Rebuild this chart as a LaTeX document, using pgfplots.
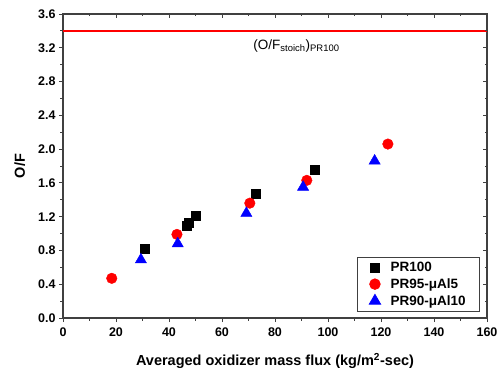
\documentclass[border=0pt]{standalone}
\usepackage{pgfplots}
\pgfplotsset{compat=1.18}
\usepackage{fontspec}
\setmainfont{Liberation Sans}
\begin{document}
\begin{tikzpicture}
\begin{axis}[
  scale only axis, width=424bp, height=304bp,
  xmin=0, xmax=160, ymin=0, ymax=3.6,
  xtick={0,20,...,160}, minor x tick num=1,
  ytick={0,0.4,...,3.6}, minor y tick num=1,
  yticklabel style={/pgf/number format/.cd,fixed,fixed zerofill,precision=1},
  /pgf/number format/assume math mode=true,
  ticklabel style={font=\fontsize{12.5bp}{14bp}\selectfont\bfseries},
  xticklabel style={yshift=-2bp},
  tick align=outside, xtick pos=bottom, ytick pos=left,
  major tick length=4bp, minor tick length=2.5bp,
  axis line style={line width=1.2bp, black!75},
  every tick/.style={black!75, line width=0.9bp},
  xlabel={\fontsize{14.5bp}{16bp}\selectfont\bfseries Averaged oxidizer mass flux (kg/m\textsuperscript{2}-sec)},
  ylabel={\fontsize{14.5bp}{16bp}\selectfont\bfseries O/F},
  xlabel style={yshift=-10bp},
  ylabel style={yshift=6bp},
  legend style={at={(rel axis cs:0.9835,0.02)}, anchor=south east,
    draw=black!75, line width=0.8bp, inner xsep=12bp, inner ysep=3bp,
    font=\fontsize{13.5bp}{15bp}\selectfont\bfseries,
    row sep=1.5bp, cells={anchor=west},
    /tikz/every odd column/.append style={column sep=8bp}},
  legend cell align=left,
]
\addplot[only marks, mark=square*, mark size=4.5bp, black] coordinates {
 (31,0.82) (46.5,1.09) (47.3,1.13) (50.2,1.21) (72.7,1.47) (94.8,1.76)};
\addlegendentry{PR100}
\addplot[only marks, mark=*, mark size=5.3bp, red] coordinates {
 (18.4,0.47) (43,0.99) (70.5,1.36) (92,1.63) (122.6,2.06)};
\addlegendentry{PR95-μAl5}
\addplot[only marks, mark=triangle*, mark size=6.5bp, blue] coordinates {
 (29.4,0.69) (43.3,0.88) (69.2,1.24) (90.6,1.55) (117.6,1.86)};
\addlegendentry{PR90-μAl10}
\addplot[red, line width=1.6bp, forget plot] coordinates {(0,3.4) (160,3.4)};
\node[anchor=west, inner sep=0pt, font=\fontsize{13.5bp}{15bp}\selectfont] at (axis cs:71.8,3.22) {(O/F\textsubscript{stoich})\textsubscript{PR100}};
\end{axis}
\begin{axis}[
  scale only axis, width=424bp, height=304bp,
  xmin=0, xmax=160, ymin=0, ymax=3.6,
  xtick={0,20,...,160}, minor x tick num=1,
  ytick={0,0.4,...,3.6}, minor y tick num=1,
  xticklabels={}, yticklabels={},
  tick align=inside, xtick pos=top, ytick pos=right,
  major tick length=4bp, minor tick length=2.5bp,
  axis line style={draw=none},
  every tick/.style={black!75, line width=0.9bp},
]
\end{axis}
\path[use as bounding box] (-63bp,-52bp) rectangle (441bp,318bp);
\end{tikzpicture}
\end{document}
